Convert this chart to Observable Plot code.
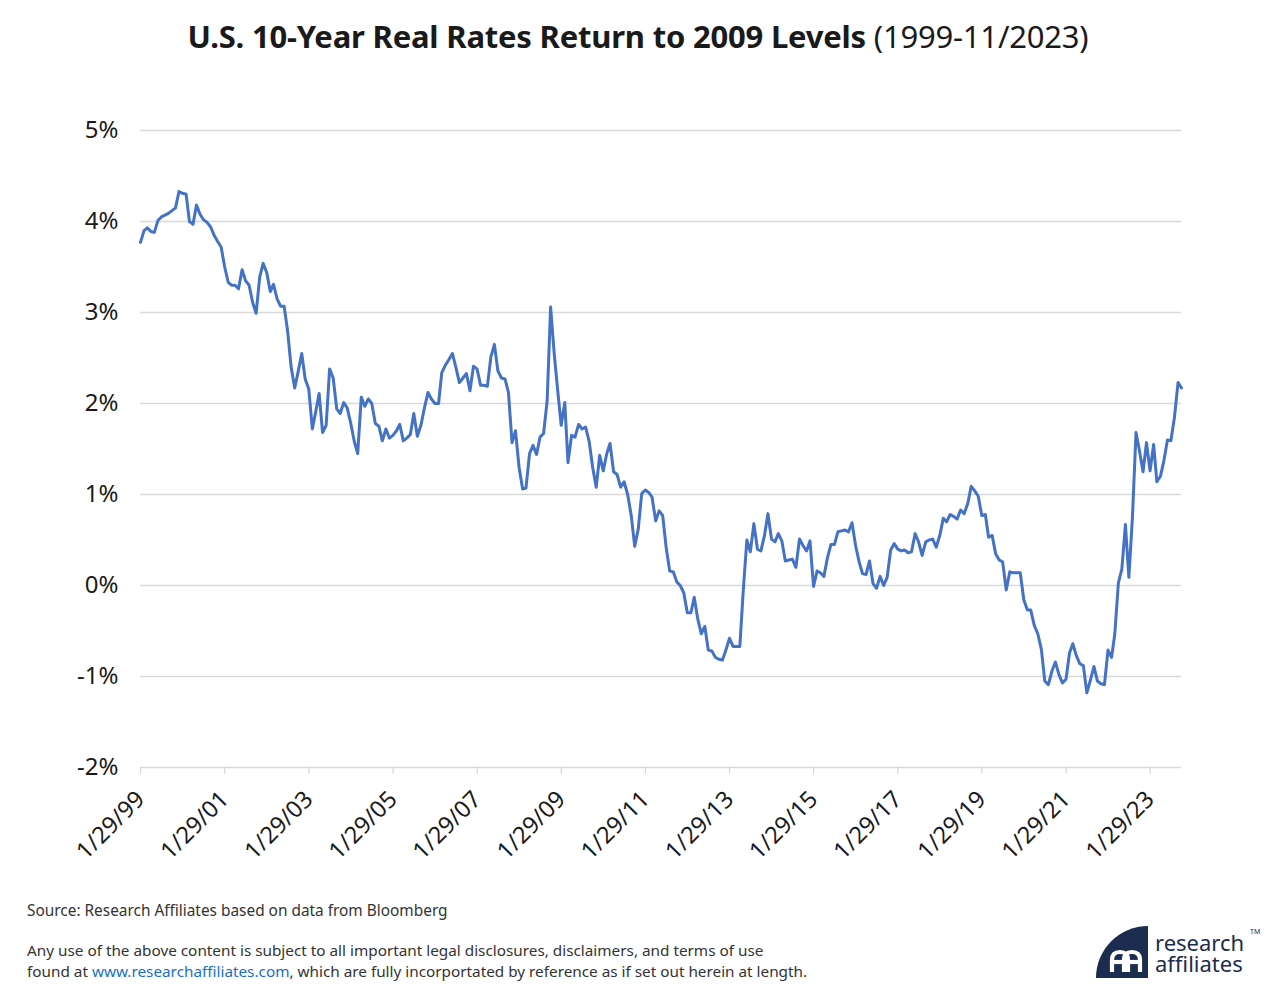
<!DOCTYPE html>
<html>
<head>
<meta charset="utf-8">
<script src="https://cdn.jsdelivr.net/npm/d3@7"></script>
<script src="https://cdn.jsdelivr.net/npm/@observablehq/plot@0.6"></script>
<style>
  html, body { margin: 0; padding: 0; background: #fff; }
  body { width: 1276px; height: 988px; position: relative; overflow: hidden; font-family: "Noto Sans", sans-serif; color: #1a1a1a; }
  #title { position: absolute; top: 15px; left: 0; width: 1276px; text-align: center; font-size: 31px; font-weight: 700; letter-spacing: -0.2px; }
  #title span { font-weight: 400; }
  #chart { position: absolute; top: 60px; left: 0; }
  #source { position: absolute; left: 27px; top: 900px; font-size: 15.4px; color: #333; }
  #legal { position: absolute; left: 27px; top: 940px; font-size: 15.3px; color: #333; line-height: 21px; }
  #legal a { color: #1a6fc4; text-decoration: none; }
  #logo { position: absolute; left: 1090px; top: 920px; }
</style>
</head>
<body>
<div id="title">U.S. 10-Year Real Rates Return to 2009 Levels <span>(1999-11/2023)</span></div>
<div id="chart"></div>
<div id="source">Source: Research Affiliates based on data from Bloomberg</div>
<div id="legal">Any use of the above content is subject to all important legal disclosures, disclaimers, and terms of use<br>found at <a>www.researchaffiliates.com</a>, which are fully incorportated by reference as if set out herein at length.</div>
<svg id="logo" width="186" height="64" viewBox="0 0 186 64">
  <path d="M6,58 A52,52 0 0 1 58,6 L58,58 Z" fill="#1b2c4e"/>
  <g fill="none" stroke="#fff" stroke-width="4.2" stroke-linecap="butt">
    <path d="M22,52 L22,40 Q22,32 30,32 Q38,32 38,40 L38,52"/>
    <path d="M34,52 L34,40 Q34,32 42,32 Q50,32 50,40 L50,52"/>
    <path d="M22,42 L50,42"/>
  </g>
  <text font-family="Noto Sans, sans-serif" font-size="22" fill="#1b2c4e"><tspan x="65" y="31">research</tspan><tspan x="65" y="52">affiliates</tspan></text>
  <text x="160" y="14" font-family="Noto Sans, sans-serif" font-size="7" fill="#1b2c4e">TM</text>
</svg>
<script>
const values1999_2003 = [
  3.77, 3.90, 3.93, 3.89, 3.88, 4.01, 4.05, 4.07, 4.09, 4.12, 4.15, 4.33,
  4.31, 4.30, 4.00, 3.97, 4.18, 4.08, 4.02, 3.99, 3.94, 3.85, 3.78, 3.72,
  3.50, 3.33, 3.30, 3.30, 3.26, 3.47, 3.35, 3.30, 3.11, 2.99, 3.39, 3.54,
  3.44, 3.23, 3.31, 3.15, 3.07, 3.07, 2.80, 2.40, 2.17, 2.35, 2.55, 2.27,
  2.16, 1.72, 1.90, 2.11, 1.68, 1.76, 2.38, 2.28, 1.94, 1.89, 2.01, 1.95
];
const values2004_2008 = [
  1.78, 1.58, 1.45, 2.07, 1.97, 2.05, 2.00, 1.78, 1.75, 1.59, 1.72, 1.62,
  1.65, 1.70, 1.77, 1.59, 1.62, 1.66, 1.89, 1.64, 1.76, 1.95, 2.12, 2.05,
  2.00, 2.00, 2.34, 2.42, 2.48, 2.55, 2.40, 2.23, 2.28, 2.33, 2.14, 2.41,
  2.38, 2.20, 2.20, 2.19, 2.51, 2.65, 2.36, 2.28, 2.27, 2.12, 1.57, 1.70,
  1.30, 1.06, 1.07, 1.45, 1.54, 1.44, 1.63, 1.67, 2.03, 3.06, 2.55, 2.15
];
const values2009_2013 = [
  1.76, 2.01, 1.35, 1.65, 1.63, 1.77, 1.72, 1.74, 1.58, 1.30, 1.08, 1.43,
  1.26, 1.45, 1.56, 1.25, 1.22, 1.08, 1.14, 1.00, 0.77, 0.43, 0.62, 1.01,
  1.05, 1.02, 0.97, 0.71, 0.82, 0.77, 0.42, 0.16, 0.15, 0.04, 0.00, -0.08,
  -0.30, -0.30, -0.13, -0.37, -0.53, -0.45, -0.71, -0.72, -0.79, -0.81, -0.82, -0.71,
  -0.58, -0.67, -0.67, -0.67, -0.05, 0.50, 0.37, 0.68, 0.40, 0.38, 0.55, 0.79
];
const values2014_2018 = [
  0.51, 0.48, 0.57, 0.49, 0.27, 0.28, 0.29, 0.20, 0.51, 0.44, 0.38, 0.49,
  -0.01, 0.16, 0.14, 0.10, 0.30, 0.45, 0.45, 0.59, 0.60, 0.61, 0.59, 0.69,
  0.44, 0.26, 0.13, 0.12, 0.27, 0.02, -0.03, 0.10, 0.00, 0.09, 0.39, 0.46,
  0.40, 0.38, 0.39, 0.36, 0.37, 0.57, 0.48, 0.33, 0.48, 0.50, 0.51, 0.42,
  0.55, 0.74, 0.70, 0.78, 0.76, 0.73, 0.83, 0.79, 0.90, 1.09, 1.04, 0.98
];
const values2019_2023 = [
  0.77, 0.78, 0.53, 0.55, 0.35, 0.28, 0.26, -0.05, 0.15, 0.14, 0.14, 0.14,
  -0.16, -0.27, -0.27, -0.44, -0.53, -0.70, -1.05, -1.09, -0.94, -0.84, -0.98, -1.07,
  -1.03, -0.74, -0.64, -0.77, -0.86, -0.88, -1.18, -1.04, -0.89, -1.05, -1.08, -1.09,
  -0.71, -0.79, -0.53, 0.03, 0.18, 0.67, 0.09, 0.75, 1.68, 1.48, 1.25, 1.57,
  1.26, 1.55, 1.14, 1.20, 1.37, 1.60, 1.59, 1.85, 2.23, 2.17
];
const startYear = 1999;
const yTicks = [-2, -1, 0, 1, 2, 3, 4, 5];
const xTickLabels = ["1/29/99","1/29/01","1/29/03","1/29/05","1/29/07","1/29/09","1/29/11","1/29/13","1/29/15","1/29/17","1/29/19","1/29/21","1/29/23"];

const values = [...values1999_2003, ...values2004_2008, ...values2009_2013, ...values2014_2018, ...values2019_2023];
const data = values.map((v, i) => ({date: new Date(Date.UTC(startYear, i, 28)), value: v}));
const parseTick = d3.utcParse("%m/%d/%y");
const xTicks = xTickLabels.map(parseTick);
const fmtX = d3.utcFormat("%-m/%-d/%y");

const chart = Plot.plot({
  width: 1276,
  height: 830,
  marginLeft: 140,
  marginRight: 95,
  marginTop: 70,
  marginBottom: 123,
  style: {fontFamily: "Noto Sans, sans-serif", background: "transparent", color: "#1a1a1a", overflow: "visible"},
  x: {type: "utc", domain: [data[0].date, data[data.length - 1].date]},
  y: {domain: [-2, 5]},
  marks: [
    Plot.ruleY(yTicks, {stroke: "#d9d9d9", strokeWidth: 1.3}),
    Plot.axisY({ticks: yTicks, tickFormat: d => `${d}%`, tickSize: 0, tickPadding: 22, fontSize: 24, label: null, fill: "#1a1a1a"}),
    Plot.axisX({ticks: xTicks, tickFormat: fmtX, tickRotate: -45, tickSize: 7, tickPadding: 21, fontSize: 23.5, label: null, stroke: "#d0d0d0", fill: "#1a1a1a"}),
    Plot.line(data, {x: "date", y: "value", stroke: "#4472C4", strokeWidth: 3, strokeLinejoin: "round"})
  ]
});
document.getElementById("chart").appendChild(chart);
</script>
</body>
</html>
